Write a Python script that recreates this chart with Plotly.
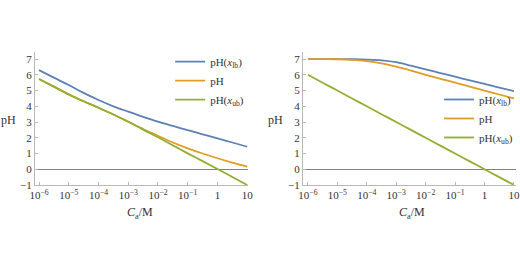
import plotly.graph_objects as go

# ---- data ----
C = [1e-6, 10**-5.5, 1e-5, 10**-4.5, 1e-4, 10**-3.5, 1e-3, 10**-2.5,
     1e-2, 10**-1.5, 1e-1, 10**-0.5, 1.0, 10**0.5, 10.0]

# left panel
left_lb = [6.30, 5.82, 5.35, 4.85, 4.40, 4.00, 3.66, 3.33, 3.02, 2.75, 2.49, 2.22, 1.96, 1.70, 1.43]
left_pH = [5.73, 5.25, 4.76, 4.32, 3.91, 3.48, 3.02, 2.56, 2.13, 1.70, 1.33, 1.00, 0.70, 0.42, 0.16]
left_ub = [5.73, 5.25, 4.76, 4.32, 3.91, 3.48, 3.02, 2.52, 2.03, 1.52, 1.01, 0.52, 0.02, -0.49, -1.00]

# right panel
right_lb = [7.00, 7.00, 7.00, 6.99, 6.97, 6.92, 6.80, 6.58, 6.35, 6.11, 5.88, 5.65, 5.42, 5.19, 4.97]
right_pH = [7.00, 7.00, 6.99, 6.95, 6.87, 6.73, 6.52, 6.27, 6.00, 5.75, 5.50, 5.25, 5.00, 4.75, 4.50]
right_ub = [6.00, 5.50, 5.00, 4.50, 4.00, 3.50, 3.00, 2.50, 2.00, 1.50, 1.00, 0.50, 0.00, -0.50, -1.00]

names = ["pH(<i>x</i><sub>lb</sub>)", "pH", "pH(<i>x</i><sub>ub</sub>)"]
colors = ["#5E81B5", "#E19C24", "#8FB032"]

xtickvals = [1e-6, 1e-5, 1e-4, 1e-3, 1e-2, 1e-1, 1, 10]
xticktext = ["10<sup>−6</sup>", "10<sup>−5</sup>", "10<sup>−4</sup>", "10<sup>−3</sup>",
             "10<sup>−2</sup>", "10<sup>−1</sup>", "1", "10"]
ytickvals = [-1, 0, 1, 2, 3, 4, 5, 6, 7]
yticktext = ["−1", "0", "1", "2", "3", "4", "5", "6", "7"]

FONT = "Liberation Serif"
fig = go.Figure()

for ys, nm, col in zip([left_lb, left_pH, left_ub], names, colors):
    fig.add_trace(go.Scatter(x=C, y=ys, mode="lines", name=nm, line=dict(color=col, width=1.8, shape="spline"),
                             xaxis="x", yaxis="y", legend="legend"))
for ys, nm, col in zip([right_lb, right_pH, right_ub], names, colors):
    fig.add_trace(go.Scatter(x=C, y=ys, mode="lines", name=nm, line=dict(color=col, width=1.8, shape="spline"),
                             xaxis="x2", yaxis="y2", legend="legend2"))

axis_common = dict(showline=True, linecolor="#b8b8b8", linewidth=1, ticks="inside", ticklen=3,
                   tickcolor="#b8b8b8", showgrid=False, tickfont=dict(family=FONT, size=11, color="#333"))

xa = dict(type="log", tickvals=xtickvals, ticktext=xticktext, zeroline=False, **axis_common)
ya = dict(range=[-1, 7.45], tickvals=ytickvals, ticktext=yticktext, zeroline=True,
          zerolinecolor="#808080", zerolinewidth=1.2, **axis_common)

fig.update_layout(
    width=520, height=272,
    margin=dict(l=35, r=4, t=52, b=87, autoexpand=False),
    paper_bgcolor="white", plot_bgcolor="white",
    font=dict(family=FONT, size=11, color="#333"),
    xaxis=dict(domain=[0, 0.443], range=[-6.135, 1.03], anchor="y", automargin=False, **xa),
    yaxis=dict(anchor="x", automargin=False, **ya),
    xaxis2=dict(domain=[0.557, 1.0], range=[-6.17, 1.07], anchor="y2", automargin=False, **xa),
    yaxis2=dict(anchor="x2", automargin=False, **ya),
    legend=dict(x=0.281, y=1.037, xanchor="left", yanchor="top", bgcolor="rgba(0,0,0,0)",
                font=dict(family=FONT, size=11, color="#333"), tracegroupgap=0),
    legend2=dict(x=0.840, y=0.752, xanchor="left", yanchor="top", bgcolor="rgba(0,0,0,0)",
                 font=dict(family=FONT, size=11, color="#333"), tracegroupgap=0),
    showlegend=True,
)

ann = dict(showarrow=False, font=dict(family=FONT, size=12, color="#333"), xref="paper", yref="paper",
           xanchor="center", yanchor="middle")
fig.add_annotation(text="pH", x=-0.056, y=0.489, **ann)
fig.add_annotation(text="pH", x=0.499, y=0.489, **ann)
fig.add_annotation(text="<i>C</i><sub>a</sub>/M", x=0.218, y=-0.21, **ann)
fig.add_annotation(text="<i>C</i><sub>a</sub>/M", x=0.784, y=-0.21, **ann)

fig.write_html("out.html", config={"displayModeBar": False},
               post_script="document.body.style.margin='0px';")
